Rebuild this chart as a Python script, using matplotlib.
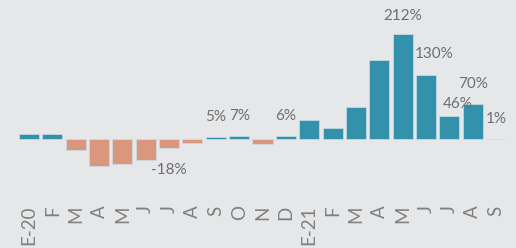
import numpy as np
import matplotlib.pyplot as plt

months = ['E-20', 'F', 'M', 'A', 'M', 'J', 'J', 'A', 'S', 'O', 'N', 'D',
          'E-21', 'F', 'M', 'A', 'M', 'J', 'J', 'A', 'S']
values = [11, 11, -23, -54, -50, -42, -18, -9, 5, 7, -10, 6,
          38, 22, 65, 159, 212, 130, 46, 70, 1]
labelled = [6, 8, 9, 11, 16, 17, 18, 19, 20]

plt.rcParams['font.family'] = ['Lato', 'DejaVu Sans']

bg = '#e6e7e9'
teal = '#3391ab'
salmon = '#d9977e'

fig = plt.figure(figsize=(5.16, 2.48), dpi=100, facecolor=bg)
ax = fig.add_axes([0, 0.194, 1, 0.806], facecolor=bg)

x = np.arange(len(values))
cols = [teal if v >= 0 else salmon for v in values]
ax.bar(x, values, width=0.86, color=cols, edgecolor='#c9dfe6', linewidth=0.5)

# offsets of the value labels in pixels (dx, dy)
offs = {17: (8, 21), 18: (8, 12), 16: (0, 18)}
for i in labelled:
    v = values[i]
    dx, dy = offs.get(i, (0, 20 if v >= 0 else -22))
    ax.annotate(f'{v}%', (x[i], v), xytext=(dx * 0.72, dy * 0.72),
                textcoords='offset points', ha='center', va='center',
                fontsize=11, color='#6e6e6e')

ax.set_xlim(-1.242, 20.857)
ax.set_ylim(-123, 281)
ax.set_xticks(x)
ax.set_xticklabels(months, rotation=90, fontsize=13.5, color='#808080')
ax.tick_params(axis='x', length=0, pad=4)
ax.set_yticks([])
for s in ax.spines.values():
    s.set_visible(False)

fig.savefig('out.png', dpi=100, facecolor=bg)
